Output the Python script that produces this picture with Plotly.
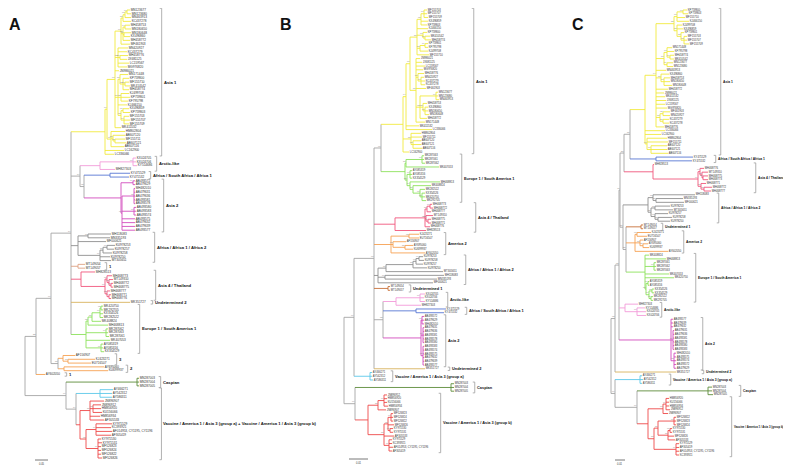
import plotly.graph_objects as go

W, H = 791, 466

# ======================= DATA =======================
# Newick branch lengths are given in multiples of *_LEN_UNIT (substitutions/site).

# ---------------- Panel A (scale bar 0.05) ----------------
A_LEN_UNIT = 0.05 / 13
A_SCALE_VALUE = 0.05
A_BACKBONE = "((((@Asia1:34,(@Arctic:20,(@AfSA:26,@Asia2:37)95:4)64:9,@Africa:7,@Und1:7,@Asia4:10,@Und2:59,@Europe:15)74:20,(@Am2a:5,@Am2b:6)81:7)99:15,@Am2c:9)52:11,(@Caspian:71,(@VacA:24,@VacB:4)74:10)99:41)"
A_ASIA1 = "(((((((MN123677:3,MN123680:4)99:2,MN463913:6)96:2,KC437278:8)88:2,((MH458753:5,MN180650:6)94:2,(MN180648:7,KX496860:6)90:1,MH458772:7)85:2,MF461903:9)97:6,(MN420927:10,KC437279:9,(MH458776:8,JX681125:7)77:2,LC159567:11,MG976820:9)83:3,JN986021:4,((MN171448:8,(KP759800:6,(MF155710:4,MK410542:5)98:2,MH458774:6)95:3)70:2,(KJ499708:8,KP759801:9,KF795798:7)82:3,KJ466150:9,((KX496859:6,KP759803:7)91:2,(MF155703:5,MF155707:6,MF155709:5)99:3)93:3)61:3,MK411532:6)97:8,(HM802804:14,(AB607120:12,(MF155711:10,AB607121:11)92:2)80:2,AB607116:13)90:4)99:2,LC162900:19,LC336066:9)"
A_ARCTIC = "((KX024705:3,KX024706:3,KY514686:4)99:33,MH827303:15)"
A_AFSA = "(KY471529:20,KY471532:19)"
A_ASIA2 = "((AB493572:2,AB479629:2)99:12,((MH482010:1,AB479631:1,AB479636:1,AB493581:1,AB493578:1)95:12,(AB493580:2,AB493583:2,AB493574:2)99:12,AB493575:13,AB479632:13,AB479639:13,AB493577:13)98:1)"
A_AFRICA = "((MH118083:23,MN335193:22)90:10,MF000621:28,(((KU978253:8,KU978257:7)99:4,KU978258:9)80:3,KU978250:10,MT305651:11)99:22)"
A_UND1 = "(MT149054:7,MT149057:7)"
A_ASIA4 = "(MH828513:14,((MH468773:5,(MT149310:4,(MH468772:2,MH468775:2)88:2)95:2)90:2,(MH468777:3,(MH468771:2,MH468776:2)99:2)85:2)99:24)"
A_UND2 = "MK351727"
A_EUROPE = "(((((MK420750:2,MK292705:2)95:1,KX354526:3,MK282522:3)99:8,MK408824:9)80:4,MH468813:20)72:2,(MK287062:2,MK287063:2,MK287061:3)99:20,MK407053:24,(AY085319:2,AY085316:2,KX354529:3)99:15)"
A_AM2A = "(AF156907:12,(KJ423271:27,EU716507:23)77:5)"
A_AM2B = "(AY695060:40,KU699937:44)"
A_AM2C = "AY602050"
A_CASPIAN = "(MN287003:2,MN287004:2,MN287005:2)"
A_VACA = "(AY466271:13,AY542312:12,AY586311:12)"
A_VACB = "((JN896907:14,(JN896912:8,HM856920:8,KU156066:9)95:3,HM856934:10,AF305533:14)88:10,((KY971529:16,KC393921:15,'AF014953, CY1195, CY1196':16,AF305419:15)99:10,(KY971530:3,KY971531:4,MF526823:3,MF526824:3,MF526822:3,MF526826:4)99:12)92:6)"
A_BRACKETS = [
    ("Asia 1", ["Asia1"]), ("Arctic-like", ["Arctic"]),
    ("Africa / South Africa / Africa 1", ["AfSA"]), ("Asia 2", ["Asia2"]),
    ("Africa / Africa 1 / Africa 2", ["Africa"]), ("1", ["Und1"]),
    ("Asia 4 / Thailand", ["Asia4"]), ("Undetermined 2", ["Und2"]),
    ("Europe 1 / South America 1", ["Europe"]), ("3", ["Am2a"]), ("2", ["Am2b"]),
    ("1", ["Am2c"]), ("Caspian", ["Caspian"]),
    ("Vaccine / America 1 / Asia 3 (group a) + Vaccine / America 1 / Asia 3 (group b)", ["VacA", "VacB"]),
]

# ---------------- Panel B (scale bar 0.01) ----------------
B_LEN_UNIT = 0.01 / 19
B_SCALE_VALUE = 0.01
B_BACKBONE = "((((@Asia1:22,@Europe:24)96:7,@Asia4:21,@Am2:17,@Africa:4,@Und1:14,(@Arctic:13,@AfSA:33,@Asia2:38)62:9,@Und2:51)98:20,@VacA:16)99:10,(@Caspian:96,@VacB:13)99:11)"
B_ASIA1 = "((((((MF155703:3,MF155707:3,MF155709:4)99:3,KX496859:7,KP759803:6)95:4,KJ466150:11,(KP759800:4,(MK410542:5,MH458774:6)77:2)90:6,((KP759801:3,KF795798:3)99:5,KJ499708:8)88:3,MF155710:12)80:7,(JN986021:4,JX681125:6,LC159567:9,MG976820:7,(MH458776:6,(MN420927:3,KC437279:4,KC437278:4)91:3)70:2,MF461903:10,((MN123677:2,MN123680:2,MN463913:3)99:16,(MH458753:4,(KX496860:3,MN180650:3,MN180648:4)98:2)85:3,MH458772:7)93:4,MN171448:9)66:6)90:4,MK411532:13,LC336066:26)94:3,(HM802804:10,MF155711:11,(AB607120:8,AB607121:8,AB607116:9)95:2)81:8,LC162900:6)"
B_EUROPE = "(((MK287063:2,MK287061:2,MK287062:3)99:16,MK407053:33)70:1,((AY085319:2,AY085316:2,KX354529:2)99:3,(MH468813:30,(MK408824:18,(MK282522:5,(KX354526:3,MK420750:3,MK292705:4)95:2)90:7)80:3)64:3)88:2)"
B_ASIA4 = "((((MH468773:2,MH468772:3)99:3,MH468777:4)80:2,(MT149310:7,(MH468775:3,MH468771:3)70:2)72:1,MH468776:5)99:30,MH828513:31)"
B_AM2 = "((KJ423271:10,EU716507:10)95:18,(AF156907:13,(AY695060:8,KU699937:8)80:12)90:2,AY602050:34)"
B_AFRICA = "(((((KU978253:4,KU978258:5)99:3,KU978257:7)97:3,KU978250:14)81:27,MT305651:57)60:8,(MH118083:59,MN335193:52)99:7,MF000621:55)"
B_UND1 = "(MT149054:2,MT149057:2)"
B_ARCTIC = "((KX024705:5,KX024706:4,KY514686:5)99:24,MH827303:25)"
B_AFSA = "(KY471529:30,KY471532:28)"
B_ASIA2 = "((AB493572:2,AB479629:2,MH482010:2)90:1,(AB479631:1,AB479636:1,AB493581:1,AB493578:1,AB493580:1)99:2,(AB493583:1,AB493574:1,AB493575:1,AB479632:1,AB479639:1,AB493577:1)95:2)"
B_UND2 = "MK351727"
B_VACA = "(AY466271:2,AY542312:2,AY586311:3)"
B_CASPIAN = "(MN287003:3,MN287004:3,MN287005:3)"
B_VACB = "(((JN896912:3,HM856920:3,KU156066:3,HM856934:4)99:6,JN896907:8)88:10,(((MF526823:2,MF526824:2,MF526822:2)99:3,MF526826:6,(KY971530:3,KY971531:3)90:2)95:4,AF305533:10,(KY971529:3,KC393921:3,'AF014953, CY1195, CY1196':4,AF305419:3)99:5)70:16)"

# ---------------- Panel C (scale bar 0.01) ----------------
C_LEN_UNIT = 0.01 / 10
C_SCALE_VALUE = 0.01
C_BACKBONE = "((((((@Asia1:15,@AfSA:26)86:6,@Asia4:29)58:4,(@Africa:25,(@Und1:15,@Am2:9,@Europe:19)55:3)71:3)40:1,@Arctic:6,@Asia2:52)62:4,@Und2:61)92:4,(@VacA:25,(@Caspian:71,@VacB:11)99:22)99:4)"
C_ASIA1 = "(((((KP759800:4,KP759803:5)99:6,MF155710:8,KJ466150:12)90:3,(KJ499708:5,KX496859:6,(KP759801:3,(MF155703:3,MF155707:3,MF155709:5)92:3)88:4)95:3)85:18,((MN171448:5,KF795798:7,(MH458774:4,MK410542:4)99:3)97:3,(MN123677:6,MN123680:6)99:3)77:8,MN463913:10,(KX496860:8,(MH458753:6,MN180650:6,MN180648:8)91:3)80:5,MH458772:12,JN986021:8,MK411532:9,JX681125:10,LC159567:9,MG976820:11,((MF461903:7,MN420927:7)92:3,(KC437279:6,KC437278:6)88:3)66:4,MH458776:8)94:11,LC336066:20,LC162900:16,(HM802804:20,MF155711:21,(AB607120:16,AB607121:16,AB607116:17)99:4)97:2)"
C_AFSA = "(KY471529:37,KY471532:36)"
C_ASIA4 = "(MH828513:1,((MH468776:4,(MT149310:6,(MH468775:5,MH468773:5)80:1)70:2)99:2,(MH468771:5,(MH468772:8,MH468777:7)95:3)88:3)99:45)"
C_AFRICA = "((MH118083:42,(MN335193:27,MF000621:28)70:3)71:5,((KU978253:15,MT305651:18)70:4,(KU978257:13,(KU978258:14,KU978250:12)95:3)90:4)85:3)"
C_UND1 = "(MT149054:2,MT149057:2)"
C_AM2 = "((KJ423271:14,EU716507:10)90:2,(AF156907:3,(AY695060:5,KU699937:6)95:3)80:5,AY602050:33)"
C_EUROPE = "(MK408824:4,MH468813:21,(MK287061:2,MK287062:2,MK287063:2)99:9,MK407053:24,MK420750:29,((AY085319:1,AY085316:1)99:2,((KX354526:2,KX354529:2)95:3,(MK282522:2,MK292705:2)90:2)99:3)70:1)"
C_ARCTIC = "(MH827303:13,(KY514686:8,KX024705:9,KX024706:9)99:12)"
C_ASIA2 = "(AB493577:2,AB479639:2,AB479632:2,(AB479631:1,AB479636:1,AB493581:1,AB493578:1,AB493580:1,AB493583:1)99:2,(MH482010:2,AB493575:2,AB493574:2,AB493572:2,AB479629:2)95:3)"
C_UND2 = "MK351727"
C_VACA = "(AY466271:2,AY542312:3,AY586311:2)"
C_CASPIAN = "(MN287003:4,MN287004:4,MN287005:5)"
C_VACB = "(((HM856920:3,KU156066:3,HM856934:3,JN896912:4)99:3,JN896907:5)97:15,(((MF526822:2,MF526823:2,MF526824:2)99:16,((KY971530:2,KY971531:2)90:2,MF526826:6,AF305533:7)70:10)80:4,(KY971529:3,AF305419:3,'AF014953, CY1195, CY1196':3,KC393921:3)99:22)88:6)"

BC_BRACKETS = [
    ("Asia 1", ["Asia1"]), ("Europe 1 / South America 1", ["Europe"]),
    ("Asia 4 / Thailand", ["Asia4"]), ("America 2", ["Am2"]),
    ("Africa / Africa 1 / Africa 2", ["Africa"]), ("Undetermined 1", ["Und1"]),
    ("Arctic-like", ["Arctic"]), ("Africa / South Africa / Africa 1", ["AfSA"]),
    ("Asia 2", ["Asia2"]), ("Undetermined 2", ["Und2"]),
    ("Vaccine / America 1 / Asia 3 (group a)", ["VacA"]), ("Caspian", ["Caspian"]),
    ("Vaccine / America 1 / Asia 3 (group b)", ["VacB"]),
]

# ======================= STYLE / LAYOUT =======================
GRAY = "#A5A5A5"
CLADE_COLORS = {
    "Asia1": "#F2EA3E", "Arctic": "#F39BD9", "AfSA": "#5877D4", "Asia2": "#D24CBD",
    "Africa": "#8E8E8E", "Und1": "#C8723A", "Asia4": "#F0577D", "Und2": "#D8B25D",
    "Europe": "#8DE25C", "Am2": "#F6A253", "Caspian": "#5E8C3A", "VacA": "#5CC8EA",
    "VacB": "#EE4949",
}
A_COLORS = dict(CLADE_COLORS, Und1="#DFA283", Am2a="#F6A253", Am2b="#F6A253", Am2c="#F6A253")

# extra gap (px) between the widest tip label of a clade and its bracket
A_PADS = {"Asia1": 15, "Arctic": 4, "AfSA": 5, "Asia2": 12, "Africa": 24, "Und1": 6, "Asia4": 27,
          "Und2": 7, "Europe": 14, "Am2a": 6, "Am2b": 4, "Am2c": 6, "Caspian": 6, "VacA": 4}
B_PADS = {"Asia1": 21, "Europe": 8, "Asia4": 29, "Am2": 7, "Africa": 8, "Und1": 7, "Arctic": 9,
          "AfSA": 7, "Asia2": 8, "Und2": 11, "VacA": 6, "Caspian": 7, "VacB": 8}
C_PADS = {"Asia1": 18, "AfSA": 9, "Asia4": 30, "Africa": 10, "Und1": 6, "Am2": 2, "Europe": 8,
          "Arctic": 2, "Asia2": 13, "Und2": 14, "VacA": 14, "Caspian": 14, "VacB": 13}
C_LABEL_FS = {"VacB": 2.8}   # the right-most label must fit inside the page

PANELS = [
    dict(letter="A", backbone=A_BACKBONE, unit=A_LEN_UNIT, scale=A_SCALE_VALUE, colors=A_COLORS,
         brackets=A_BRACKETS, pads=A_PADS, tip_fs=3.1, clade_fs=4.2, label_fs={},
         clades={"Asia1": A_ASIA1, "Arctic": A_ARCTIC, "AfSA": A_AFSA, "Asia2": A_ASIA2,
                 "Africa": A_AFRICA, "Und1": A_UND1, "Asia4": A_ASIA4, "Und2": A_UND2,
                 "Europe": A_EUROPE, "Am2a": A_AM2A, "Am2b": A_AM2B, "Am2c": A_AM2C,
                 "Caspian": A_CASPIAN, "VacA": A_VACA, "VacB": A_VACB},
         dom=(0, 263), root=17, y_first=2, y_last=450, scale_x=27, scale_y=452, letter_xy=(7, 16)),
    dict(letter="B", backbone=B_BACKBONE, unit=B_LEN_UNIT, scale=B_SCALE_VALUE, colors=CLADE_COLORS,
         brackets=BC_BRACKETS, pads=B_PADS, tip_fs=2.7, clade_fs=3.9, label_fs={},
         clades={"Asia1": B_ASIA1, "Europe": B_EUROPE, "Asia4": B_ASIA4, "Am2": B_AM2,
                 "Africa": B_AFRICA, "Und1": B_UND1, "Arctic": B_ARCTIC, "AfSA": B_AFSA,
                 "Asia2": B_ASIA2, "Und2": B_UND2, "VacA": B_VACA, "Caspian": B_CASPIAN,
                 "VacB": B_VACB},
         dom=(263, 530), root=336, y_first=2, y_last=443, scale_x=341, scale_y=451, letter_xy=(278, 16)),
    dict(letter="C", backbone=C_BACKBONE, unit=C_LEN_UNIT, scale=C_SCALE_VALUE, colors=CLADE_COLORS,
         brackets=BC_BRACKETS, pads=C_PADS, tip_fs=2.7, clade_fs=3.35, label_fs=C_LABEL_FS,
         clades={"Asia1": C_ASIA1, "AfSA": C_AFSA, "Asia4": C_ASIA4, "Africa": C_AFRICA,
                 "Und1": C_UND1, "Am2": C_AM2, "Europe": C_EUROPE, "Arctic": C_ARCTIC,
                 "Asia2": C_ASIA2, "Und2": C_UND2, "VacA": C_VACA, "Caspian": C_CASPIAN,
                 "VacB": C_VACB},
         dom=(530, 791), root=603, y_first=2, y_last=447, scale_x=607, scale_y=452, letter_xy=(570, 16)),
]

BOOT_FS = 2.2
FONT = "Liberation Sans, Arial, sans-serif"


# ======================= TREE UTILITIES =======================
def parse_newick(s):
    pos = 0

    def node():
        nonlocal pos
        n = {"children": [], "name": "", "len": 0.0}
        if s[pos] == "(":
            pos += 1
            while True:
                n["children"].append(node())
                ch = s[pos]
                pos += 1
                if ch == ")":
                    break
        if pos < len(s) and s[pos] == "'":
            end = s.index("'", pos + 1)
            n["name"] = s[pos + 1:end]
            pos = end + 1
        else:
            st = pos
            while pos < len(s) and s[pos] not in ":,()":
                pos += 1
            n["name"] = s[st:pos]
        if pos < len(s) and s[pos] == ":":
            pos += 1
            st = pos
            while pos < len(s) and s[pos] not in ",()":
                pos += 1
            n["len"] = float(s[st:pos])
        return n

    return node()


def graft(n, clades, colors):
    if not n["children"] and n["name"].startswith("@"):
        key = n["name"][1:]
        sub = parse_newick(clades[key])
        sub["len"] = n["len"]

        def paint(m):
            m["color"] = colors[key]
            m["clade"] = key
            for c in m["children"]:
                paint(c)

        paint(sub)
        return sub
    n["color"] = GRAY
    n["clade"] = None
    n["children"] = [graft(c, clades, colors) for c in n["children"]]
    return n


def text_w(t, fs):
    return len(t) * 0.6 * fs


fig = go.Figure()
layout_axes = {}
annotations = []

for i, P in enumerate(PANELS):
    sfx = "" if i == 0 else str(i + 1)
    xa, ya = "x" + sfx, "y" + sfx
    root = graft(parse_newick(P["backbone"]), P["clades"], P["colors"])
    tips = []

    def walk(n, x):
        n["x"] = x
        if n["children"]:
            for c in n["children"]:
                walk(c, x + c["len"] * P["unit"])
            n["y"] = (n["children"][0]["y"] + n["children"][-1]["y"]) / 2
        else:
            n["y"] = len(tips)
            tips.append(n)

    walk(root, 0.0)

    ppu = 1.0 / P["unit"]                                   # screen px per substitution unit
    ppt = (P["y_last"] - P["y_first"]) / (len(tips) - 1)    # screen px per tip row
    tfs = P["tip_fs"]

    segs = {}
    boots = []

    def draw(n):
        for c in n["children"]:
            xs, ys = segs.setdefault(c["color"], ([], []))
            xs += [n["x"], c["x"], None]
            ys += [c["y"], c["y"], None]
            draw(c)
        if n["children"]:
            xs, ys = segs.setdefault(n["color"], ([], []))
            xs += [n["x"], n["x"], None]
            ys += [n["children"][0]["y"], n["children"][-1]["y"], None]
            if n["name"]:
                boots.append((n["x"] - 0.5 / ppu, n["y"] - 0.2, n["name"]))

    draw(root)

    order = [GRAY] + [c for c in segs if c != GRAY]
    for col in order:
        if col not in segs:
            continue
        xs, ys = segs[col]
        fig.add_trace(go.Scatter(x=xs, y=ys, mode="lines", line=dict(color=col, width=0.9),
                                 xaxis=xa, yaxis=ya, hoverinfo="skip", cliponaxis=False))

    fig.add_trace(go.Scatter(x=[b[0] for b in boots], y=[b[1] for b in boots],
                             text=[b[2] for b in boots], mode="text", textposition="top left",
                             marker=dict(size=0),
                             textfont=dict(size=BOOT_FS, color="#777", family=FONT),
                             xaxis=xa, yaxis=ya, hoverinfo="skip", cliponaxis=False))
    fig.add_trace(go.Scatter(x=[t["x"] + 0.8 / ppu for t in tips], y=[t["y"] for t in tips],
                             text=[t["name"] for t in tips], mode="text", textposition="middle right",
                             marker=dict(size=0),
                             textfont=dict(size=tfs, color="#333", family=FONT),
                             xaxis=xa, yaxis=ya, hoverinfo="skip", cliponaxis=False))

    bx_l, by_l = [], []
    for label, keys in P["brackets"]:
        sel = [t for t in tips if t["clade"] in keys]
        y0 = min(t["y"] for t in sel)
        y1 = max(t["y"] for t in sel)
        right = max(t["x"] + (0.8 + text_w(t["name"], tfs)) / ppu for t in sel)
        bx = right + P["pads"].get(keys[0], 6) / ppu
        tick = 2.0 / ppu
        e = 0.45
        bx_l += [bx - tick, bx, bx, bx - tick, None]
        by_l += [y0 - e, y0 - e, y1 + e, y1 + e, None]
        annotations.append(dict(x=bx + 1.0 / ppu, y=(y0 + y1) / 2, xref=xa, yref=ya,
                                text="<b>" + label + "</b>", showarrow=False,
                                xanchor="left", yanchor="middle", borderpad=0,
                                font=dict(size=P["label_fs"].get(keys[0], P["clade_fs"]),
                                          color="#111", family=FONT)))
    fig.add_trace(go.Scatter(x=bx_l, y=by_l, mode="lines", line=dict(color="#9E9E9E", width=0.8),
                             xaxis=xa, yaxis=ya, hoverinfo="skip", cliponaxis=False))

    sx0 = (P["scale_x"] - P["root"]) / ppu
    sy = (P["scale_y"] - P["y_first"]) / ppt
    fig.add_trace(go.Scatter(x=[sx0, sx0 + P["scale"]], y=[sy, sy], mode="lines",
                             line=dict(color="#555", width=0.8),
                             xaxis=xa, yaxis=ya, hoverinfo="skip", cliponaxis=False))
    annotations.append(dict(x=sx0 + P["scale"] / 2, y=sy + 1.0 / ppt, xref=xa, yref=ya,
                            text=str(P["scale"]), showarrow=False, xanchor="center", yanchor="top",
                            borderpad=0, font=dict(size=2.6, color="#333", family=FONT)))

    d0, d1 = P["dom"]
    layout_axes["xaxis" + sfx] = dict(domain=[d0 / W, d1 / W],
                                      range=[(d0 - P["root"]) / ppu, (d1 - P["root"]) / ppu],
                                      visible=False, fixedrange=True, anchor=ya)
    layout_axes["yaxis" + sfx] = dict(domain=[0, 1],
                                      range=[(H - P["y_first"]) / ppt, -P["y_first"] / ppt],
                                      visible=False, fixedrange=True, anchor=xa)

    lx, ly = P["letter_xy"]
    annotations.append(dict(x=lx / W, y=1 - ly / H, xref="paper", yref="paper", text="<b>%s</b>" % P["letter"],
                            showarrow=False, font=dict(size=16, color="#111", family=FONT),
                            xanchor="center", yanchor="middle"))

fig.update_layout(width=W, height=H, margin=dict(l=0, r=0, t=0, b=0),
                  paper_bgcolor="white", plot_bgcolor="white", showlegend=False,
                  font=dict(family=FONT), annotations=annotations, **layout_axes)

fig.write_html("out.html")
